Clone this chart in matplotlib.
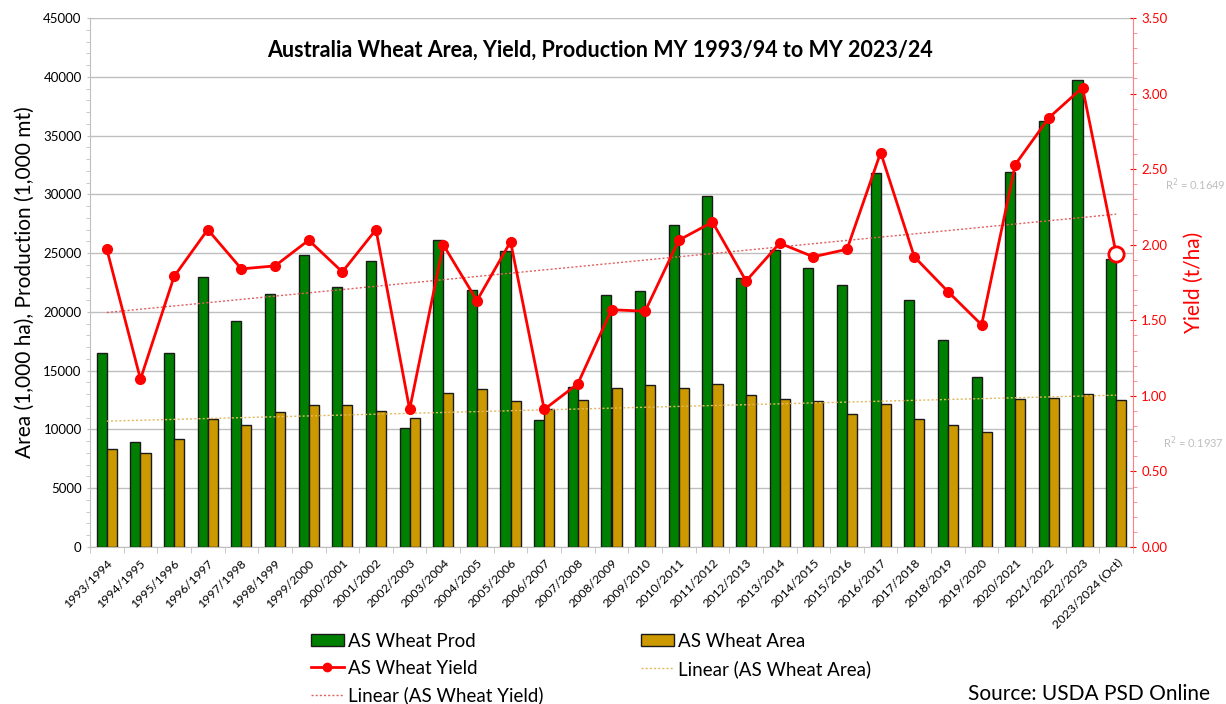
import numpy as np
import matplotlib
matplotlib.use("Agg")
import matplotlib.pyplot as plt
from matplotlib.ticker import MultipleLocator, FormatStrFormatter
from matplotlib.lines import Line2D
from matplotlib.patches import Patch

plt.rcParams['font.family'] = ['Lato', 'DejaVu Sans']

years = ["1993/1994", "1994/1995", "1995/1996", "1996/1997", "1997/1998", "1998/1999",
         "1999/2000", "2000/2001", "2001/2002", "2002/2003", "2003/2004", "2004/2005",
         "2005/2006", "2006/2007", "2007/2008", "2008/2009", "2009/2010", "2010/2011",
         "2011/2012", "2012/2013", "2013/2014", "2014/2015", "2015/2016", "2016/2017",
         "2017/2018", "2018/2019", "2019/2020", "2020/2021", "2021/2022", "2022/2023",
         "2023/2024 (Oct)"]
production = [16500, 8900, 16500, 23000, 19200, 21500, 24800, 22100, 24300, 10100,
              26100, 21900, 25200, 10800, 13600, 21400, 21800, 27400, 29900, 22900,
              25300, 23700, 22300, 31800, 21000, 17600, 14500, 31900, 36200, 39700, 24500]
area = [8300, 8000, 9200, 10900, 10400, 11500, 12100, 12100, 11600, 11000,
        13100, 13400, 12400, 11700, 12500, 13500, 13800, 13500, 13900, 12900,
        12600, 12400, 11300, 12200, 10900, 10400, 9800, 12600, 12700, 13000, 12500]
yield_ = [1.97, 1.11, 1.79, 2.10, 1.84, 1.86, 2.03, 1.82, 2.10, 0.91,
          2.00, 1.63, 2.02, 0.91, 1.08, 1.57, 1.56, 2.03, 2.15, 1.76,
          2.01, 1.92, 1.97, 2.61, 1.92, 1.69, 1.47, 2.53, 2.84, 3.04, 1.94]

GREEN = "#008000"
GOLD = "#CC9900"
RED = "#FF0000"
AREA_TREND = "#E0B860"
YIELD_TREND = "#E06060"

fig = plt.figure(figsize=(12.26, 7.04), dpi=100)
ax = fig.add_axes([90/1226, 1-547/704, (1133-90)/1226, (547-18)/704])
ax2 = ax.twinx()

x = np.arange(len(years))
w = 0.3
ax.bar(x - w/2, production, w, color=GREEN, edgecolor="#1a1a1a", linewidth=1.0, zorder=3)
ax.bar(x + w/2, area, w, color=GOLD, edgecolor="#1a1a1a", linewidth=1.0, zorder=3)

# linear trend (as Excel trendline)
pa = np.polyfit(x, area, 1)
ax.plot(x, np.polyval(pa, x), linestyle=(0, (1.5, 1.5)), color=AREA_TREND, linewidth=1.0, zorder=4)

ax.set_xlim(-0.5, len(years) - 0.5)
ax.set_ylim(0, 45000)
ax.yaxis.set_major_locator(MultipleLocator(5000))
ax.yaxis.set_minor_locator(MultipleLocator(1000))
ax.grid(axis='y', which='major', color="#BFBFBF", linewidth=1.0, zorder=0)
ax.set_axisbelow(True)
ax.set_xticks(x)
ax.set_xticklabels(years, rotation=45, ha='right', rotation_mode='anchor', fontsize=8.9)
ax.set_xticks(np.arange(-0.5, len(years)), minor=True)
ax.tick_params(axis='x', which='major', length=0, pad=7)
ax.tick_params(axis='x', which='minor', length=4, color="#BFBFBF")
ax.tick_params(axis='y', which='major', labelsize=9.5, length=5, color="#BFBFBF", direction='inout')
ax.tick_params(axis='y', which='minor', length=3, color="#BFBFBF", direction='out')
ax.set_ylabel("Area (1,000 ha), Production (1,000 mt)", fontsize=15, labelpad=6)
ax.spines['top'].set_visible(False)
ax.spines['left'].set_color("#BFBFBF")
ax.spines['bottom'].set_color("#BFBFBF")
ax.spines['right'].set_visible(False)

py = np.polyfit(x, yield_, 1)
ax2.plot(x, np.polyval(py, x), linestyle=(0, (1.5, 1.5)), color=YIELD_TREND, linewidth=1.0, zorder=4)
ax2.plot(x, yield_, color=RED, linewidth=2, marker='o', markersize=7, zorder=5)
ax2.plot(x[-1], yield_[-1], marker='o', markersize=11, markerfacecolor='white',
         markeredgecolor=RED, markeredgewidth=2, zorder=6)
ax2.set_ylim(0, 3.5)
ax2.yaxis.set_major_locator(MultipleLocator(0.5))
ax2.yaxis.set_minor_locator(MultipleLocator(0.1))
ax2.yaxis.set_major_formatter(FormatStrFormatter('%.2f'))
ax2.tick_params(axis='y', which='major', labelsize=9.5, colors=RED, length=5, direction='inout')
ax2.tick_params(axis='y', which='minor', length=3, color="#FF8080", direction='out')
ax2.set_ylabel("Yield (t/ha)", fontsize=15, color=RED, labelpad=12)
ax2.spines['right'].set_color("#FF8080")
for s in ['top', 'left', 'bottom']:
    ax2.spines[s].set_visible(False)

fig.text(600/1226, 1-50/704, "Australia Wheat Area, Yield, Production MY 1993/94 to MY 2023/24",
         ha='center', va='center', fontsize=15.5, fontweight='bold')

fig.text(1165/1226, 1-185/704, "R$^2$ = 0.1649", fontsize=8, color="#BFBFBF", ha='left', va='center')
fig.text(1163/1226, 1-443/704, "R$^2$ = 0.1937", fontsize=8, color="#BFBFBF", ha='left', va='center')

handles1 = [
    Patch(facecolor=GREEN, edgecolor="#1a1a1a", label="AS Wheat Prod"),
    Line2D([], [], color=RED, linewidth=2, marker='o', markersize=6, label="AS Wheat Yield"),
    Line2D([], [], color=YIELD_TREND, linewidth=1, linestyle=(0, (1.5, 1.5)), label="Linear (AS Wheat Yield)"),
]
handles2 = [
    Patch(facecolor=GOLD, edgecolor="#1a1a1a", label="AS Wheat Area"),
    Line2D([], [], color=AREA_TREND, linewidth=1, linestyle=(0, (1.5, 1.5)), label="Linear (AS Wheat Area)"),
]
leg_kw = dict(loc='upper left', frameon=False, fontsize=13.5, handlelength=1.75,
              handleheight=0.6, handletextpad=0.2, labelspacing=0.52, borderpad=0, borderaxespad=0)
l1 = fig.legend(handles=handles1, bbox_to_anchor=(311/1226, 1-633/704), **leg_kw)
l2 = fig.legend(handles=handles2, bbox_to_anchor=(641/1226, 1-633/704), **leg_kw)

fig.text(968/1226, 1-704/704, "Source: USDA PSD Online", fontsize=15, ha='left', va='bottom')

fig.savefig("out.png", dpi=100)
